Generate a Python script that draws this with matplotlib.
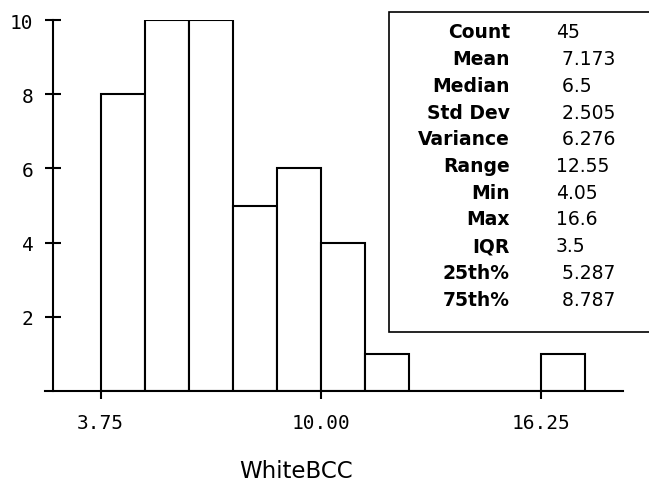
import matplotlib
matplotlib.use('Agg')
import matplotlib.pyplot as plt
from matplotlib.patches import Rectangle


# histogram of WhiteBCC, bins of width 1.25 starting at 3.75
bin_edges = [3.75, 5.0, 6.25, 7.5, 8.75, 10.0, 11.25, 12.5, 13.75, 15.0, 16.25, 17.5]
counts = [8, 10, 10, 5, 6, 4, 1, 0, 0, 0, 1]

x_ticks = [3.75, 10.00, 16.25]
x_tick_labels = ['3.75', '10.00', '16.25']
y_ticks = [2, 4, 6, 8, 10]

stat_names = ['Count', 'Mean', 'Median', 'Std Dev', 'Variance', 'Range',
              'Min', 'Max', 'IQR', '25th%', '75th%']
stat_values = ['45', ' 7.173', ' 6.5', ' 2.505', ' 6.276', '12.55',
               '4.05', '16.6', '3.5', ' 5.287', ' 8.787']

W, H = 649, 485
fig = plt.figure(figsize=(W / 100, H / 100), dpi=100)

# axes box in pixels: baseline from x=45 to x=623, y=392 (0) up to y=21 (10)
left_px, right_px, base_px, top_px = 45, 623, 392, 21
ax = fig.add_axes([left_px / W, (H - base_px) / H,
                   (right_px - left_px) / W, (base_px - top_px) / H])

widths = [b - a for a, b in zip(bin_edges[:-1], bin_edges[1:])]
ax.bar(bin_edges[:-1], counts, width=widths, align='edge',
       color='white', edgecolor='black', linewidth=1.5, zorder=2)

ax.set_xlim(2.168, 18.59)
ax.set_ylim(0, 10)

for s in ['top', 'right']:
    ax.spines[s].set_visible(False)
ax.spines['left'].set_position(('data', 2.395))
ax.spines['left'].set_linewidth(1.5)
ax.spines['bottom'].set_linewidth(1.5)
ax.spines['bottom'].set_zorder(3)

mono = 'DejaVu Sans Mono'
ax.set_xticks(x_ticks)
ax.set_xticklabels(x_tick_labels, family=mono, fontsize=14)
ax.set_yticks(y_ticks)
ax.set_yticklabels([str(v) for v in y_ticks], family=mono, fontsize=14)
ax.tick_params(axis='y', direction='inout', length=12, width=1.5, pad=8)
ax.tick_params(axis='x', direction='out', length=6, width=1.5, pad=10)

ax.set_xlabel('WhiteBCC', fontsize=16.5, va='center')
ax.xaxis.set_label_coords((296 - left_px) / (right_px - left_px),
                          (base_px - 472) / (base_px - top_px))

# summary statistics panel
box_l, box_t, box_b, box_r = 389, 13, 333, 652
fig.patches.append(Rectangle((box_l / W, 1 - box_b / H),
                             (box_r - box_l) / W, (box_b - box_t) / H,
                             transform=fig.transFigure, facecolor='white',
                             edgecolor='black', linewidth=1.2, zorder=5))

row0, row_step = 33, 26.7
for i, (name, val) in enumerate(zip(stat_names, stat_values)):
    y = 1 - (row0 + i * row_step) / H
    fig.text(510 / W, y, name, ha='right', va='center',
             fontsize=13.5, fontweight='bold', zorder=6)
    fig.text(556 / W, y, val, ha='left', va='center',
             fontsize=13.5, zorder=6)

fig.savefig('out.png', dpi=100)
